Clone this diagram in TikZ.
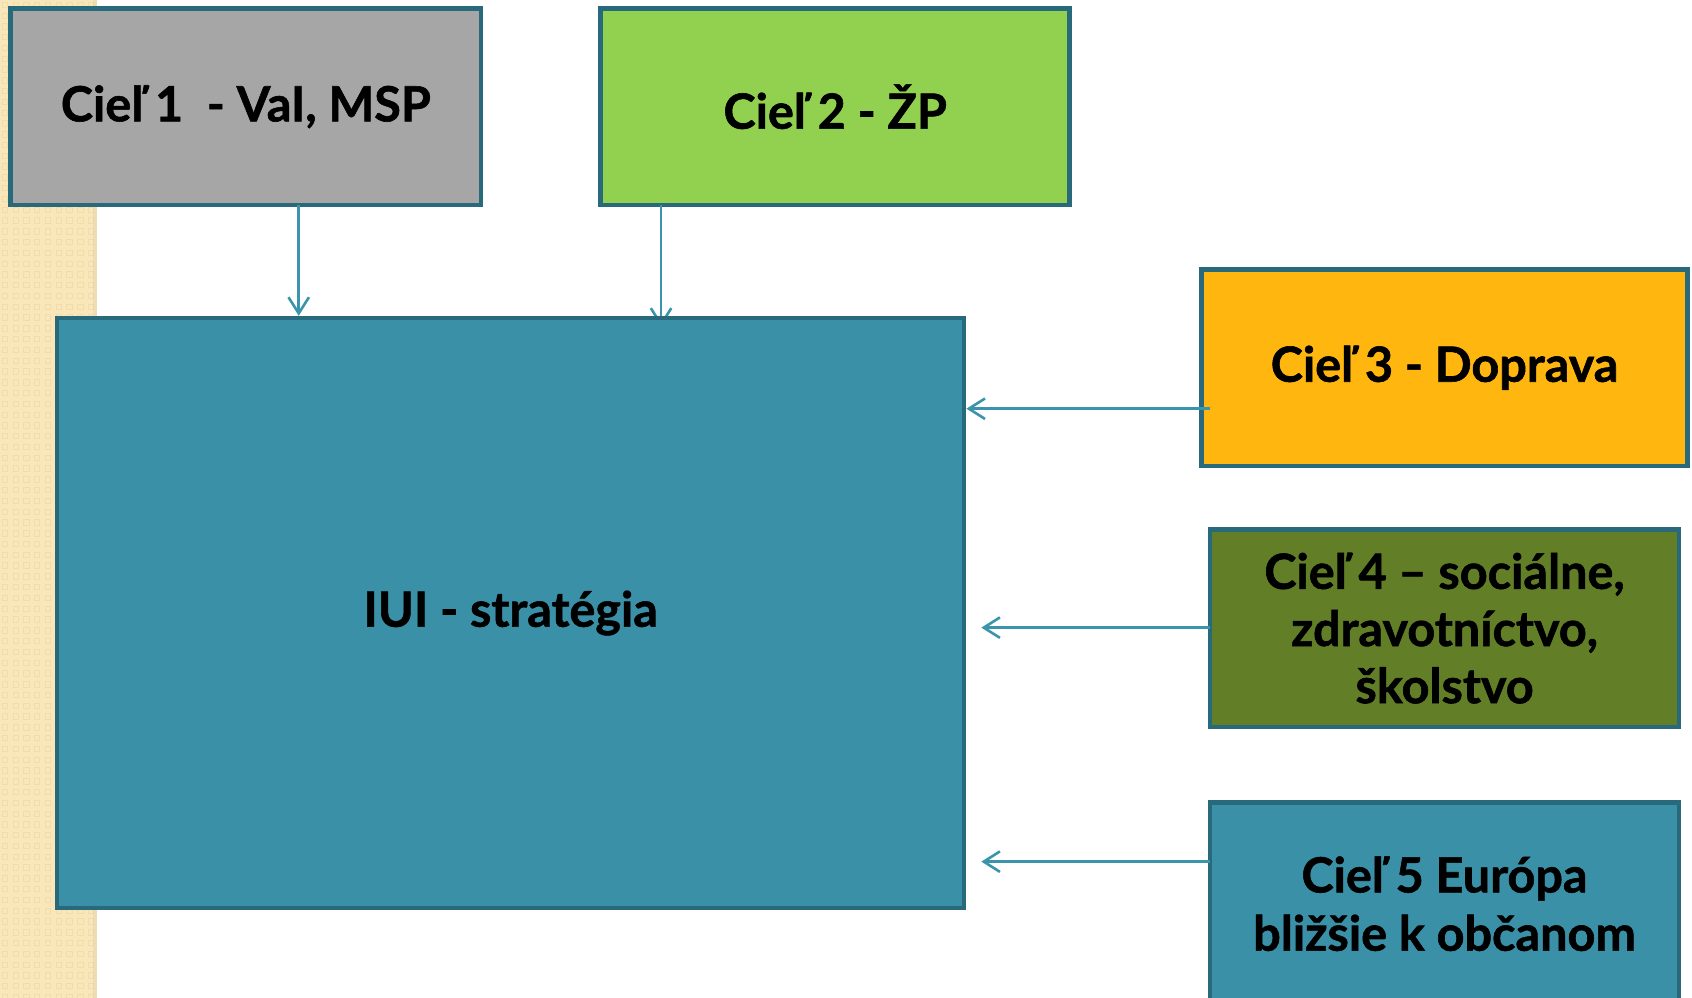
\documentclass[tikz,border=0pt]{standalone}
\usepackage{fontspec}
\setmainfont{Lato}[BoldFeatures={FakeBold=1.2}]
\usetikzlibrary{arrows.meta}
\definecolor{bordc}{HTML}{286A7B}
\definecolor{grayf}{HTML}{A6A6A6}
\definecolor{greenf}{HTML}{92D050}
\definecolor{orangef}{HTML}{FFB70F}
\definecolor{olivef}{HTML}{627E26}
\definecolor{tealf}{HTML}{3A90A7}
\definecolor{arrc}{HTML}{3A94AB}
\definecolor{stripf}{HTML}{F9E7BA}
\definecolor{stripd}{HTML}{F0DDAD}
\begin{document}
\begin{tikzpicture}[x=1pt,y=-1pt,
  box/.style={draw=bordc,line width=4.3pt,inner sep=0pt,align=center,
    font=\fontsize{45}{53}\selectfont\bfseries,text=black},
  arr/.style={draw=arrc,line width=2.4pt,-{Straight Barb[length=15pt,width=19pt,line width=2.4pt]}},
  txt/.style={inner sep=0pt,align=center,font=\fontsize{45}{54}\selectfont\bfseries,text=black}]
\useasboundingbox (0,0) rectangle (1569,925);
\fill[white] (0,0) rectangle (1569,925);
% decorative strip
\fill[stripf] (0,0) rectangle (90,925);
\foreach \i in {0,...,8}{\foreach \j in {0,...,92}{
  \draw[stripd,line width=0.8pt] (\i*10+2,\j*10+2) rectangle ++(5,5);}}
\fill[stripd!80!gray,opacity=0.35] (86,0) rectangle (90,925);
% boxes
\node[box,fill=grayf,minimum width=436pt,minimum height=182pt] (c1) at (228,99) {Cieľ 1\ \ - VaI, MSP};
\node[box,fill=greenf,minimum width=435pt,minimum height=182pt] (c2) at (774.5,99) {Cieľ 2 - ŽP};
\coordinate (a2) at (613,190);
\coordinate (a2e) at (613,303);
\draw[arr] (a2) -- (a2e);
\node[box,fill=tealf,minimum width=841pt,minimum height=547pt] (main) at (473.5,568.5) {IUI - stratégia};
\node[box,fill=orangef,minimum width=451pt,minimum height=182pt] (c3) at (1339.5,341) {Cieľ 3 - Doprava};
\node[box,fill=olivef,minimum width=435pt,minimum height=183pt] (c4) at (1339.5,582.5) {Cieľ 4 – sociálne,\\zdravotníctvo,\\školstvo};
\node[box,fill=tealf,minimum width=435pt,minimum height=270pt] (c5) at (1339.5,879) {};
\node[txt] (t5) at (1339.5,838) {Cieľ 5 Európa\\bližšie k občanom};
% arrows
\coordinate (a1) at (277,190);
\draw[arr] (a1) -- (a1 |- main.north);
\coordinate (s3) at (1122,379);
\draw[arr] (s3) -- (s3 -| main.east);
\coordinate (s4) at (1122,582);
\coordinate (e4) at (910,582);
\draw[arr] (s4) -- (e4);
\coordinate (s5) at (1122,799);
\coordinate (e5) at (910,799);
\draw[arr] (s5) -- (e5);
\end{tikzpicture}
\end{document}
